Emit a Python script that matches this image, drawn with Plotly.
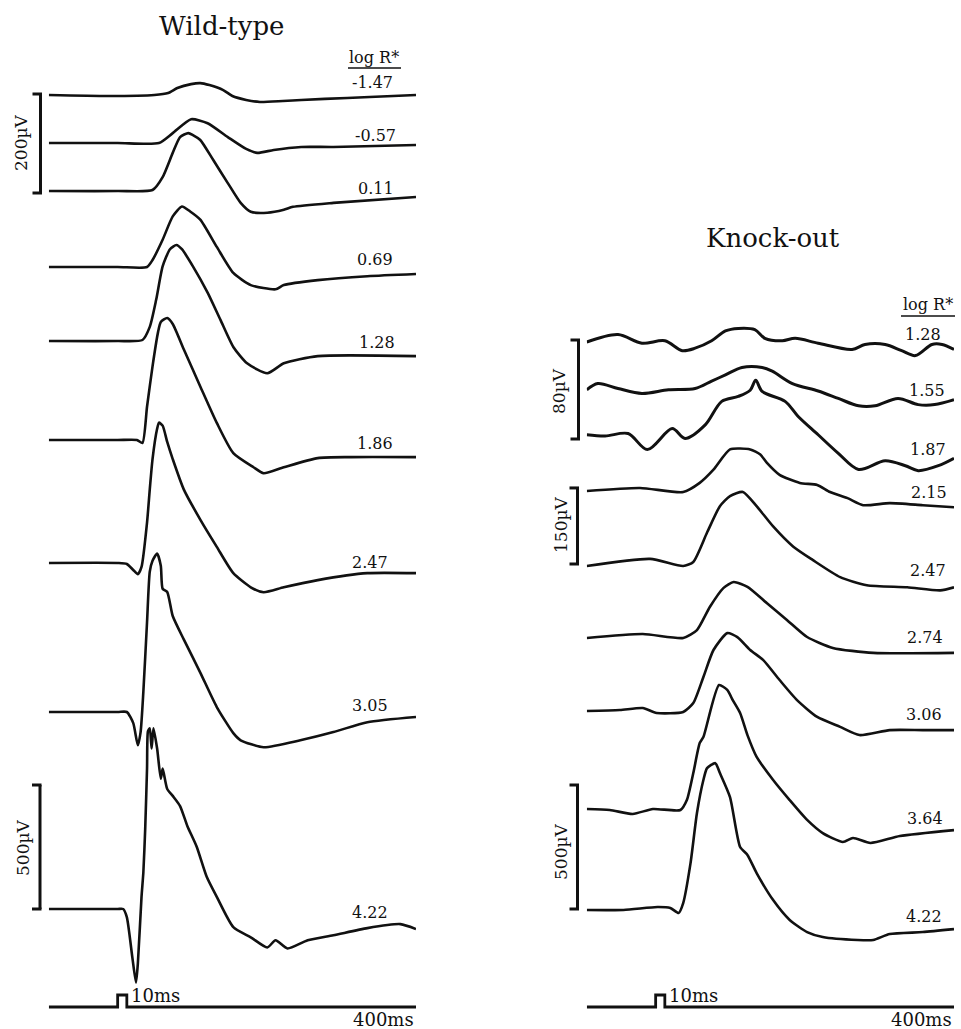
import plotly.graph_objects as go

# ---------------- stimulus timing (ms, relative to flash onset) ----------------
sweep_start, sweep_end = -75, 325
flash_on, flash_off = 0, 10

# ---------------- Wild-type ERG responses (t in ms, amplitude in µV) ----------------
wt_levels = ["-1.47", "-0.57", "0.11", "0.69", "1.28", "1.86", "2.47", "3.05", "4.22"]

wt_t_m147 = [-75, -10, 40, 55, 65, 80, 90, 100, 115, 125, 140, 155, 180, 200, 250, 300, 325]
wt_v_m147 = [0, -2, 0, 4, 14, 22, 24, 20, 10, -2, -10, -14, -12, -10, -6, -2, 0]

wt_t_m057 = [-75, 0, 45, 60, 80, 98, 120, 140, 152, 170, 200, 235, 325]
wt_v_m057 = [0, 0, 0, 20, 48, 40, 12, -12, -20, -14, -8, -8, -4]

wt_t_011 = [-75, 0, 38, 49, 60, 68, 77, 82, 90, 104, 120, 134, 145, 163, 181, 191, 235, 325]
wt_v_011 = [0, 0, 2, 28, 77, 109, 117, 113, 103, 63, 16, -24, -42, -44, -38, -32, -24, -12]

wt_t_069 = [-75, 0, 32, 38, 49, 60, 70, 79, 90, 108, 126, 145, 172, 181, 218, 272, 325]
wt_v_069 = [0, 0, 0, 28, 110, 204, 244, 224, 191, 81, -24, -73, -90, -73, -53, -37, -28]

wt_t_128 = [-75, 0, 27, 35, 42, 49, 57, 64, 70, 82, 98, 112, 126, 141, 163, 181, 218, 325]
wt_v_128 = [0, 0, 4, 57, 167, 301, 370, 387, 370, 301, 195, 85, -24, -90, -130, -90, -61, -61]

wt_t_186 = [-75, 0, 21, 27, 32, 38, 44, 47, 54, 60, 72, 90, 108, 126, 148, 159, 181, 218, 254, 325]
wt_v_186 = [0, 0, 0, -12, 134, 297, 435, 476, 492, 468, 366, 216, 69, -53, -110, -134, -110, -73, -69, -69]

wt_t_247 = [-75, 0, 10, 17, 22, 26, 32, 35, 38, 43, 45, 49, 54, 60, 72, 90, 108, 126, 145, 159, 181, 218, 272, 325]
wt_v_247 = [0, 0, -4, -28, -45, -16, 163, 297, 419, 541, 566, 554, 488, 419, 297, 175, 65, -41, -98, -118, -98, -69, -41, -41]

wt_t_305 = [-75, 0, 10, 17, 22, 25, 28, 32, 35, 38, 43, 47, 49, 54, 60, 72, 90, 108, 126, 134, 159, 199, 235, 272, 325]
wt_v_305 = [0, 0, 0, -45, -134, -81, 81, 362, 566, 610, 639, 590, 497, 484, 387, 293, 159, 20, -85, -114, -142, -114, -81, -41, -20]

wt_t_422 = [-75, 0, 6, 10, 16, 20, 22, 26, 28, 30, 32, 33, 35, 37, 39, 43, 47, 49, 54, 60, 68, 76, 86, 97,
            108, 126, 145, 163, 172, 185, 207, 235, 272, 308, 325]
wt_v_422 = [0, 0, 0, -33, -195, -297, -220, 49, 147, 322, 566, 716, 729, 647, 729, 647, 525, 566, 484, 456,
            415, 334, 252, 130, 49, -73, -114, -155, -126, -159, -126, -106, -77, -61, -81]

# ---------------- Knock-out ERG responses (t in ms, amplitude in µV) ----------------
ko_levels = ["1.28", "1.55", "1.87", "2.15", "2.47", "2.74", "3.06", "3.64", "4.22"]

ko_t_128 = [-75, -41, -15, 10, 29, 43, 61, 76, 90, 108, 119, 138, 152, 177, 214, 228, 250, 268, 283, 301, 312, 325]
ko_v_128 = [0, 6, -1, 1, -7, -5, 1, 9, 11, 10, 3, 1, 3, -1, -6, -2, -2, -7, -11, -2, -2, -6]

ko_t_155 = [-75, -63, -41, -15, 14, 43, 61, 76, 94, 116, 127, 149, 177, 199, 221, 239, 264, 286, 304, 325]
ko_v_155 = [1, 6, 2, -2, 1, 2, 8, 13, 19, 19, 16, 6, 0, -6, -12, -12, -6, -11, -11, -7]

ko_t_187 = [-75, -55, -30, -9, 18, 32, 54, 72, 90, 103, 109, 116, 141, 155, 177, 199, 221, 250, 272, 286, 308, 325]
ko_v_187 = [1, 0, 2, -11, 6, -2, 9, 28, 32, 37, 45, 36, 28, 16, 1, -14, -27, -20, -24, -28, -24, -18]

ko_t_215 = [-75, -17, 30, 48, 63, 81, 103, 114, 121, 135, 157, 176, 190, 209, 226, 255, 291, 325]
ko_v_215 = [0, 6, -2, 16, 42, 82, 82, 72, 56, 32, 16, 12, -2, -14, -28, -24, -28, -32]

ko_t_247 = [-75, -6, 30, 41, 56, 70, 81, 95, 110, 128, 150, 171, 201, 230, 274, 310, 325]
ko_v_247 = [0, 14, 0, 8, 66, 118, 138, 146, 118, 78, 38, 12, -22, -38, -42, -48, -42]

ko_t_274 = [-75, -14, 30, 45, 59, 74, 85, 100, 121, 143, 165, 193, 237, 325]
ko_v_274 = [0, 16, 0, 32, 125, 202, 226, 206, 141, 73, 4, -40, -60, -60]

ko_t_306 = [-75, -39, -14, 1, 30, 41, 52, 63, 78, 89, 103, 117, 135, 154, 176, 201, 222, 255, 291, 325]
ko_v_306 = [0, 4, 12, -8, -4, 32, 137, 246, 314, 298, 246, 206, 125, 44, -24, -64, -97, -77, -77, -77]

ko_t_364 = [-75, -50, -25, -3, 27, 34, 41, 48, 52, 69, 78, 84, 92, 100, 110, 128, 146, 165, 182, 204, 215, 234, 266, 325]
ko_v_364 = [0, -4, -20, 0, -4, 36, 145, 266, 290, 500, 480, 439, 387, 298, 210, 117, 36, -44, -97, -133, -117, -137, -109, -85]

ko_t_422 = [-75, -35, 2, 16, 25, 30, 38, 45, 52, 56, 65, 70, 81, 92, 100, 110, 128, 146, 165, 182, 220, 237, 255, 291, 325]
ko_v_422 = [0, 0, 12, 8, -12, 28, 189, 391, 524, 572, 592, 552, 455, 254, 222, 149, 40, -40, -89, -109, -121, -121, -97, -89, -77]

# ---------------- layout (display units = pixels of the page) ----------------
W, H = 961, 1029
INK = "#111111"
FONT = "DejaVu Serif"

# display gain (px per µV) for each calibration group
gain = {"wt200": 0.495, "wt500": 0.248, "ko80": 1.2375, "ko150": 0.507, "ko500": 0.248}

wt_rows = [  # (t, v, baseline y, gain group, label x, label y)
    (wt_t_m147, wt_v_m147, 95, "wt200", 372, 82),
    (wt_t_m057, wt_v_m057, 143, "wt200", 375, 135),
    (wt_t_011, wt_v_011, 191, "wt200", 376, 188),
    (wt_t_069, wt_v_069, 267, "wt500", 375, 259),
    (wt_t_128, wt_v_128, 341, "wt500", 377, 342),
    (wt_t_186, wt_v_186, 440, "wt500", 375, 443),
    (wt_t_247, wt_v_247, 563, "wt500", 370, 562),
    (wt_t_305, wt_v_305, 712, "wt500", 370, 705),
    (wt_t_422, wt_v_422, 909, "wt500", 370, 912),
]
ko_rows = [
    (ko_t_128, ko_v_128, 342, "ko80", 923, 334),
    (ko_t_155, ko_v_155, 391, "ko80", 927, 390),
    (ko_t_187, ko_v_187, 436, "ko80", 928, 449),
    (ko_t_215, ko_v_215, 491, "ko150", 929, 492),
    (ko_t_247, ko_v_247, 566, "ko150", 928, 570),
    (ko_t_274, ko_v_274, 638, "ko500", 925, 637),
    (ko_t_306, ko_v_306, 711, "ko500", 924, 714),
    (ko_t_364, ko_v_364, 809, "ko500", 925, 818),
    (ko_t_422, ko_v_422, 910, "ko500", 924, 916),
]

# calibration bars: (µV, gain group, bar x px, bottom y, label x px, label y, text)
bars = [
    (200, "wt200", 40.5, 193, 21, 143, "200µV"),
    (500, "wt500", 40.0, 909, 23, 848, "500µV"),
    (80, "ko80", 578.5, 439, 559, 391, "80µV"),
    (150, "ko150", 577.5, 564, 561, 525, "150µV"),
    (500, "ko500", 577.5, 909, 561, 852, "500µV"),
]

fig = go.Figure()


def text(x, y, s, size, **kw):
    fig.add_annotation(x=x / W, y=y, xref="paper", yref="y", text=s, showarrow=False,
                       xanchor=kw.pop("xanchor", "center"), yanchor="middle",
                       font=dict(family=FONT, size=size, color=INK), **kw)


def add_panel(rows, levels, xa):
    for (t, v, base, grp, lx, ly), lvl in zip(rows, levels):
        g = gain[grp]
        noisy = grp == "ko80"
        fig.add_trace(go.Scatter(
            x=t, y=[base - g * a for a in v], mode="lines", xaxis=xa, yaxis="y",
            line=dict(color=INK, width=3.0 if noisy else 2.6, shape="spline",
                      smoothing=0.9 if noisy else 0.6),
            hoverinfo="skip", showlegend=False, name=lvl))
        text(lx, ly, lvl, 16)
    # stimulus monitor: 10 ms flash
    st_t = [sweep_start, flash_on, flash_on, flash_off, flash_off, sweep_end]
    st_lv = [0, 0, 1, 1, 0, 0]
    fig.add_trace(go.Scatter(
        x=st_t, y=[1007 - 12 * s for s in st_lv], mode="lines", xaxis=xa, yaxis="y",
        line=dict(color=INK, width=2.8), hoverinfo="skip", showlegend=False, name="flash"))


add_panel(wt_rows, wt_levels, "x")
add_panel(ko_rows, ko_levels, "x2")

# calibration bars
for uv, grp, bx, bot, lx, ly, txt in bars:
    top = bot - uv * gain[grp]
    for (x0, y0, x1, y1) in [(bx, bot, bx, top), (bx - 8, bot, bx + 1.5, bot), (bx - 8, top, bx + 1.5, top)]:
        fig.add_shape(type="line", xref="paper", yref="y", x0=x0 / W, x1=x1 / W, y0=y0, y1=y1,
                      line=dict(color=INK, width=3))
    text(lx, ly, txt, 17, textangle=-90)

# "log R*" headers with underline
for cx, cy, ux0, ux1, uy in [(374, 57, 348, 401, 68), (928, 304, 901, 955, 316)]:
    text(cx, cy, "log R*", 16)
    fig.add_shape(type="line", xref="paper", yref="y", x0=ux0 / W, x1=ux1 / W, y0=uy, y1=uy,
                  line=dict(color=INK, width=1.5))

# panel titles
text(222, 26, "Wild-type", 26)
text(773, 238, "Knock-out", 26)

# time calibration labels
for x10, x400 in [(129, 416), (667, 954)]:
    text(x10, 995, "10ms", 18, xanchor="left")
    text(x400, 1019, "400ms", 18, xanchor="right")

axis_common = dict(visible=False, range=[sweep_start, sweep_end], fixedrange=True)
fig.update_layout(
    width=W, height=H, margin=dict(l=0, r=0, t=0, b=0),
    paper_bgcolor="white", plot_bgcolor="white",
    xaxis=dict(domain=[48.8 / W, 416 / W], anchor="y", **axis_common),
    xaxis2=dict(domain=[586.8 / W, 954 / W], anchor="y", **axis_common),
    yaxis=dict(visible=False, range=[H, 0], domain=[0, 1], fixedrange=True),
)

fig.write_html("out.html")
